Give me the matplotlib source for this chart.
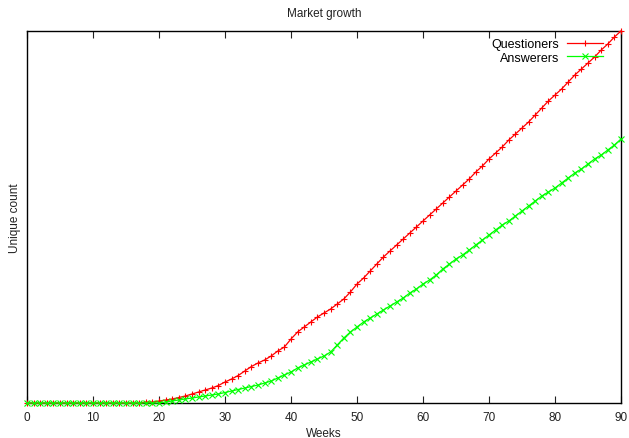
import matplotlib
matplotlib.use("Agg")
import matplotlib.pyplot as plt

plt.rcParams["font.family"] = ["Liberation Sans", "DejaVu Sans"]

weeks = list(range(0, 91))

# unique counts per week
questioners = [0] * 18 + [1, 1,
    2, 3, 4, 5.5, 7, 9, 11, 13, 15, 17.5,
    21, 24, 27.5, 32, 36.5, 40, 43, 47, 52, 56,
    64, 71, 76, 81, 86, 90, 94, 99, 104, 111,
    119, 125, 132, 139, 146, 152, 158, 164, 170, 176,
    182, 188, 194, 200, 206, 212, 218, 224, 231, 237,
    244, 250, 256, 263, 269, 275, 281, 288, 295, 302,
    308, 314, 321, 328, 334, 340, 346, 353, 359, 366,
    372]

answerers = [0] * 21 + [
    1, 2, 3, 4, 5, 6, 7, 8, 9,
    10.5, 12, 13.5, 15, 16.5, 18, 20, 22, 25, 28,
    31, 35, 38, 41, 44, 47, 51, 58, 65, 71,
    76, 81, 85, 89, 93, 97, 101, 105, 110, 114,
    119, 123, 128, 134, 139, 144, 148, 153, 158, 163,
    168, 173, 178, 182, 187, 192, 197, 202, 207, 211,
    215, 220, 225, 230, 234, 239, 244, 248, 253, 258,
    264]

fig = plt.figure(figsize=(6.29, 4.39), dpi=100)
ax = fig.add_axes([27 / 629, 35 / 439, 594 / 629, 372 / 439])

ax.plot(weeks, questioners, color="#ff0000", lw=0.9, marker="+", ms=5,
        mew=0.8, label="Questioners", clip_on=False, zorder=3)
ax.plot(weeks, answerers, color="#00ff00", lw=0.9, marker="x", ms=4,
        mew=0.8, label="Answerers", clip_on=False, zorder=3)

ax.set_xlim(0, 90)
ax.set_ylim(0, max(questioners))
ax.set_xticks(range(0, 91, 10))
ax.set_yticks([])
ax.tick_params(axis="x", direction="in", length=5, width=0.8, top=True,
               labelsize=8.5, pad=6, color="#222222", labelcolor="#222222")
for s in ax.spines.values():
    s.set_linewidth(1.0)
    s.set_color("black")

ax.set_xlabel("Weeks", fontsize=8.5, labelpad=3, color="#222222")
ax.set_ylabel("Unique count", fontsize=8.5, labelpad=4, color="#222222")
ax.set_title("Market growth", fontsize=8.5, pad=11, color="#222222")

ax.legend(loc="upper right", bbox_to_anchor=(0.97, 0.98), frameon=False,
          markerfirst=False, fontsize=9, handlelength=2.9, handletextpad=0.6,
          labelspacing=0.1, borderaxespad=0, borderpad=0)

fig.savefig("out.png", dpi=100)
